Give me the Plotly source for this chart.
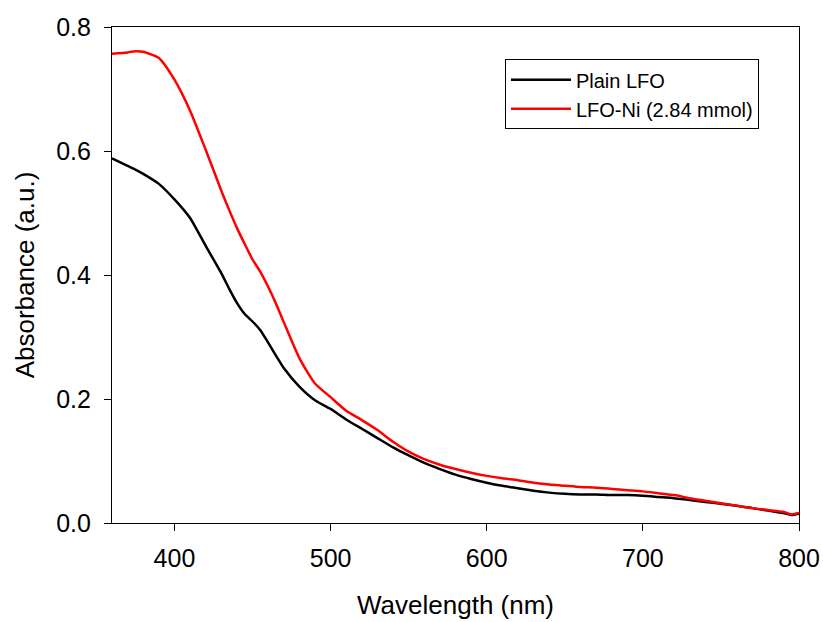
import plotly.graph_objects as go

wavelength = [360, 370, 375, 380, 390, 400, 410, 420, 430, 435, 440, 445, 450, 455, 460,
              465, 470, 480, 490, 500, 510, 520, 530, 540, 550, 560, 570, 580, 590, 600,
              610, 620, 630, 640, 650, 660, 670, 680, 690, 700, 710, 720, 730, 740, 750,
              760, 770, 780, 790, 795, 800]

plain_lfo = [0.588, 0.576, 0.570, 0.563, 0.547, 0.522, 0.492, 0.447, 0.403, 0.378, 0.355,
             0.337, 0.325, 0.311, 0.291, 0.270, 0.250, 0.220, 0.198, 0.184, 0.167, 0.152,
             0.137, 0.122, 0.109, 0.097, 0.087, 0.078, 0.071, 0.065, 0.060, 0.056, 0.052,
             0.049, 0.047, 0.046, 0.046, 0.045, 0.045, 0.044, 0.042, 0.040, 0.037, 0.034,
             0.031, 0.028, 0.024, 0.020, 0.016, 0.013, 0.015]

lfo_ni = [0.757, 0.759, 0.761, 0.760, 0.750, 0.715, 0.665, 0.602, 0.536, 0.505, 0.476,
          0.450, 0.425, 0.405, 0.381, 0.354, 0.324, 0.266, 0.225, 0.203, 0.181, 0.166,
          0.150, 0.131, 0.115, 0.103, 0.094, 0.087, 0.081, 0.076, 0.072, 0.069, 0.065,
          0.062, 0.060, 0.058, 0.057, 0.055, 0.053, 0.051, 0.048, 0.045, 0.040, 0.036,
          0.032, 0.028, 0.024, 0.021, 0.018, 0.014, 0.016]

series_names = ["Plain LFO", "LFO-Ni (2.84 mmol)"]
x_ticks = [400, 500, 600, 700, 800]
y_ticks = [0.0, 0.2, 0.4, 0.6, 0.8]

FONT = "Liberation Sans, Arial, sans-serif"

fig = go.Figure()
fig.add_trace(go.Scatter(x=wavelength, y=plain_lfo, mode="lines", name=series_names[0],
                         line=dict(color="black", width=2.5, shape="spline", smoothing=0.6)))
fig.add_trace(go.Scatter(x=wavelength, y=lfo_ni, mode="lines", name=series_names[1],
                         line=dict(color="#ff0000", width=2.5, shape="spline", smoothing=0.6)))

fig.update_layout(
    width=823, height=622,
    margin=dict(l=112, r=24, t=27, b=99, autoexpand=False),
    paper_bgcolor="white", plot_bgcolor="white",
    font=dict(family=FONT, color="black"),
    showlegend=True,
    legend=dict(
        x=0.572, y=0.935, xanchor="left", yanchor="top",
        bordercolor="black", borderwidth=1, bgcolor="white",
        font=dict(size=20, family=FONT, color="black"),
        itemwidth=60, tracegroupgap=0,
    ),
    xaxis=dict(
        range=[360, 800], tickvals=x_ticks, ticktext=[str(v) for v in x_ticks],
        showgrid=False, zeroline=False, automargin=False,
        showline=True, linecolor="black", linewidth=1.2, mirror=True,
        ticks="outside", ticklen=7, tickwidth=1.2, tickcolor="black",
        tickfont=dict(size=25, family=FONT, color="black"),
        ticklabelstandoff=6,
        title=dict(text="Wavelength (nm)", font=dict(size=26, family=FONT, color="black"),
                   standoff=24),
    ),
    yaxis=dict(
        range=[0, 0.8], tickvals=y_ticks, ticktext=[f"{v:.1f}" for v in y_ticks],
        showgrid=False, zeroline=False, automargin=False,
        showline=True, linecolor="black", linewidth=1.2, mirror=True,
        ticks="outside", ticklen=7, tickwidth=1.2, tickcolor="black",
        tickfont=dict(size=25, family=FONT, color="black"),
        ticklabelstandoff=8,
        title=dict(text="Absorbance (a.u.)", font=dict(size=26, family=FONT, color="black"),
                   standoff=14),
    ),
)

fig.write_html("out.html")
